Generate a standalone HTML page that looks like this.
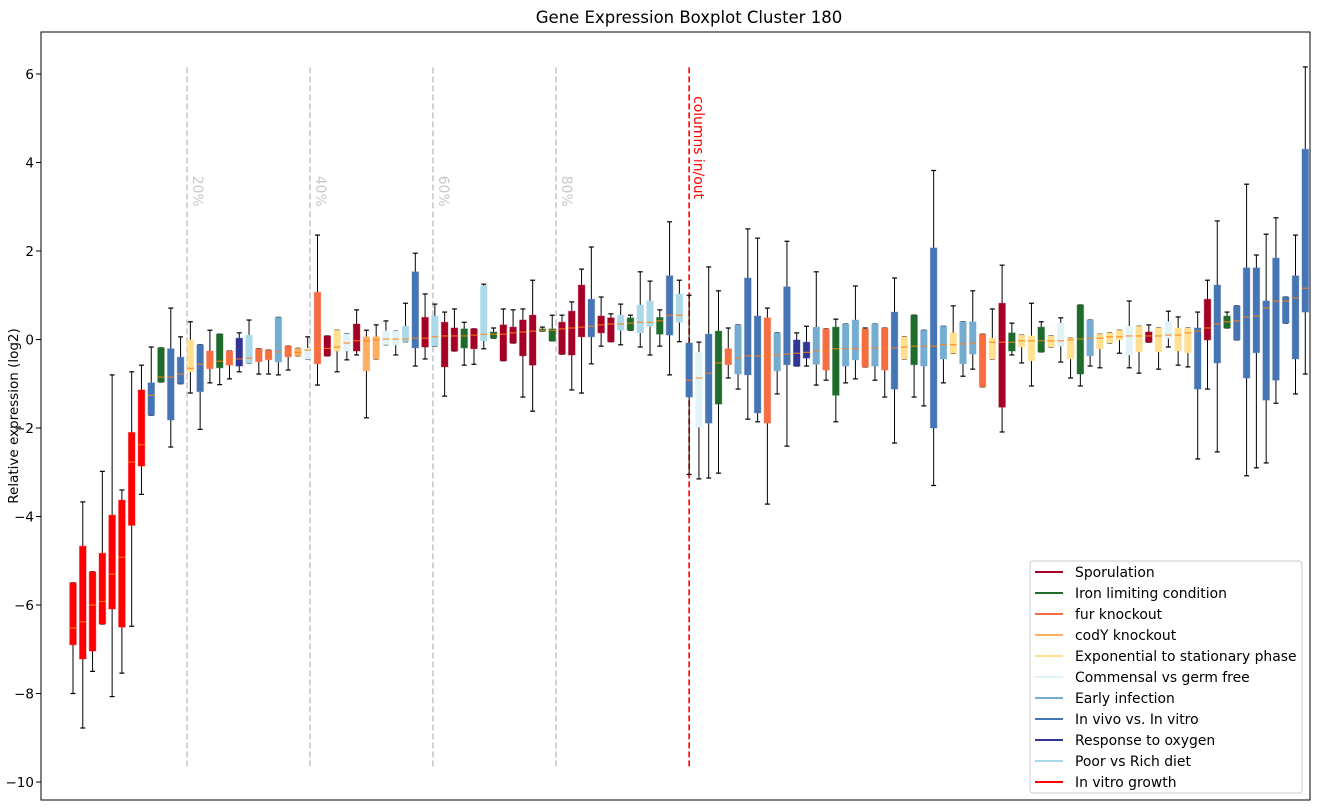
<!DOCTYPE html>
<html><head><meta charset="utf-8">
<style>
html,body{margin:0;padding:0;background:#fff;}
svg{display:block;font-family:"DejaVu Sans","Liberation Sans",sans-serif;}
</style></head>
<body>
<svg id="chart" width="1318" height="812" viewBox="0 0 1318 812"></svg>
<script>
// ---- data (log2 relative expression), one entry per box ----
const categories = ["R","R","R","R","R","R","R","R",
"V","G","V","V","E","V","F","G","F","O","P","F","F","I",
"F","C","M","F","S","E","M","S","C","C","M","M","P","V","S","P","S","S","G","S","P",
"G","S","S","S","S","G","G","S","S","S","V","S","S","P","G","P","P","G","V","P","V",
"M","V","G","F","I","V","V","F","I","V","O","O","I","F","G","I","I","F","I","F","V","E",
"G","I","V","I","E","I","I","F","E","S","G","E","E","G","E","M","E","G","I","E","E","E",
"M","E","S","E","M","E","E","V","S","V","G","V","V","V","V","V","V","V","V"];
const medians = [-6.52,-6.38,-6.0,-5.92,-5.3,-4.92,-2.77,-2.38,
-1.26,-0.85,-0.85,-0.78,-0.65,-0.56,-0.56,-0.49,-0.46,-0.44,-0.42,-0.35,-0.33,-0.28,
-0.29,-0.29,-0.24,-0.2,-0.2,-0.17,-0.08,-0.03,-0.03,-0.01,0.01,0.01,0.01,0.03,0.03,0.06,0.08,0.08,0.08,0.1,0.12,
0.12,0.12,0.15,0.17,0.19,0.21,0.21,0.24,0.26,0.28,0.3,0.33,0.35,0.35,0.37,0.39,0.39,0.42,0.55,0.55,-0.92,
-0.87,-0.76,-0.53,-0.44,-0.42,-0.37,-0.37,-0.35,-0.35,-0.33,-0.31,-0.29,-0.26,-0.26,-0.21,-0.21,-0.21,-0.19,-0.19,-0.19,-0.19,-0.17,
-0.15,-0.15,-0.15,-0.12,-0.12,-0.1,-0.08,-0.08,-0.06,-0.06,-0.06,-0.03,-0.03,-0.03,-0.03,-0.03,-0.01,0.01,0.03,0.03,0.06,0.06,
0.08,0.08,0.08,0.08,0.1,0.1,0.15,0.19,0.26,0.35,0.4,0.42,0.51,0.53,0.71,0.87,0.87,0.94,1.16];
const q1 = [-6.9,-7.22,-7.04,-6.43,-6.09,-6.5,-4.2,-2.86,
-1.71,-0.96,-1.82,-1.0,-0.73,-1.18,-0.66,-0.64,-0.58,-0.6,-0.53,-0.5,-0.46,-0.51,
-0.39,-0.37,-0.44,-0.55,-0.37,-0.26,-0.26,-0.26,-0.71,-0.44,-0.12,-0.12,-0.05,-0.19,-0.17,-0.15,-0.62,-0.26,-0.19,-0.21,-0.03,
0.03,-0.48,-0.08,-0.37,-0.58,0.19,-0.03,-0.33,-0.35,0.06,0.06,0.15,-0.05,0.21,0.21,0.15,0.3,0.12,0.1,0.39,-1.3,
-1.98,-1.89,-1.46,-0.57,-0.78,-0.8,-1.66,-1.89,-0.71,-0.57,-0.6,-0.42,-0.56,-0.69,-1.26,-0.6,-0.46,-0.62,-0.6,-0.69,-1.12,-0.44,
-0.57,-0.6,-2.0,-0.44,-0.31,-0.55,-0.33,-1.07,-0.44,-1.53,-0.26,-0.17,-0.48,-0.28,-0.17,-0.15,-0.44,-0.78,-0.37,-0.21,-0.08,-0.01,
-0.35,-0.28,-0.06,-0.28,0.03,-0.26,-0.3,-1.12,-0.01,-0.53,0.26,-0.01,-0.87,-0.3,-1.37,-0.92,0.37,-0.44,0.62];
const q3 = [-5.5,-4.67,-5.25,-4.83,-3.97,-3.63,-2.1,-1.14,
-0.98,-0.19,-0.21,-0.4,-0.01,-0.12,-0.26,0.12,-0.26,0.03,0.1,-0.21,-0.24,0.5,
-0.15,-0.2,-0.2,1.07,0.08,0.21,0.13,0.35,0.06,0.06,0.19,0.19,0.3,1.53,0.5,0.53,0.39,0.26,0.24,0.24,1.21,
0.17,0.33,0.28,0.44,0.55,0.24,0.24,0.39,0.64,1.23,0.91,0.53,0.49,0.55,0.49,0.78,0.87,0.5,1.44,1.03,-0.08,
-0.29,0.12,0.19,-0.21,0.33,1.39,0.53,0.49,0.15,1.19,-0.01,-0.06,0.28,0.24,0.28,0.35,0.44,0.24,0.35,0.26,0.62,0.06,
0.55,0.21,2.07,0.3,0.15,0.4,0.4,0.12,0.03,0.82,0.15,0.1,0.08,0.28,0.08,0.37,0.03,0.78,0.44,0.12,0.15,0.21,
0.3,0.3,0.17,0.26,0.4,0.26,0.26,0.26,0.91,1.23,0.53,0.76,1.62,1.62,0.87,1.84,0.96,1.44,4.3];
const whiskerHigh = [-5.5,-3.67,-5.25,-2.98,-0.8,-3.4,-0.73,-0.58,
-0.17,-0.19,0.71,0.06,0.4,-0.12,0.21,0.12,-0.26,0.15,0.44,-0.21,-0.24,0.5,
-0.15,-0.2,0.06,2.36,0.08,0.21,0.13,0.67,0.21,0.33,0.42,0.19,0.82,1.95,1.03,0.8,0.62,0.69,0.39,0.24,1.25,
0.26,0.69,0.67,0.69,1.34,0.28,0.55,0.55,0.85,1.59,2.09,0.96,0.58,0.8,0.55,1.53,1.32,0.67,2.66,1.34,1.0,
-0.06,1.64,1.1,0.26,0.33,2.5,2.29,0.71,0.15,2.22,0.15,0.3,1.53,0.24,0.46,0.35,1.21,0.26,0.35,0.26,1.39,0.06,
0.55,0.21,3.82,0.3,0.76,0.4,1.1,0.12,0.69,1.68,0.37,0.1,0.82,0.4,0.08,0.49,0.03,0.78,0.44,0.12,0.15,0.21,
0.87,0.3,0.33,0.26,0.64,0.51,0.26,0.62,1.34,2.68,0.62,0.76,3.51,1.91,2.38,2.75,0.96,2.36,6.16];
const whiskerLow = [-8.0,-8.78,-7.5,-6.43,-8.07,-7.54,-6.48,-3.5,
-1.71,-0.96,-2.43,-1.0,-1.21,-2.03,-0.98,-1.02,-0.89,-0.73,-0.53,-0.78,-0.78,-0.8,
-0.69,-0.37,-0.44,-1.03,-0.37,-0.73,-0.46,-0.35,-1.77,-0.44,-0.12,-0.35,-0.05,-0.6,-0.44,-0.15,-1.28,-0.26,-0.58,-0.56,-0.21,
0.03,-0.48,-0.08,-1.3,-1.62,0.19,-0.03,-0.33,-1.14,-1.21,-0.55,-0.15,-0.05,-0.12,0.21,-0.17,-0.35,-0.15,-0.8,-0.05,-3.05,
-3.15,-3.13,-3.02,-0.87,-1.12,-1.8,-1.86,-3.72,-1.23,-2.41,-0.6,-0.6,-1.03,-0.92,-1.86,-0.98,-0.89,-0.62,-0.92,-1.3,-2.34,-0.44,
-1.3,-1.5,-3.3,-0.98,-0.31,-0.83,-0.67,-1.07,-0.44,-2.09,-0.35,-0.53,-1.05,-0.28,-0.17,-0.51,-0.87,-1.05,-0.6,-0.64,-0.08,-0.31,
-0.64,-0.76,-0.06,-0.67,-0.17,-0.58,-0.62,-2.7,-1.12,-2.54,0.26,-0.01,-3.08,-2.9,-2.79,-1.44,0.37,-1.23,-0.78];
const yTicks = [-10,-8,-6,-4,-2,0,2,4,6];
const percentLines = [11.66,24.23,36.8,49.39];
const percentLabels = ["20%","40%","60%","80%"];
const splitIndex = 63;
const legendKeys = ["S","G","F","C","E","M","I","V","O","P","R"];
const legendLabels = ["Sporulation","Iron limiting condition","fur knockout","codY knockout","Exponential to stationary phase","Commensal vs germ free","Early infection","In vivo vs. In vitro","Response to oxygen","Poor vs Rich diet","In vitro growth"];

const colors = {S:"#a50026",G:"#1e6b2c",F:"#f46d43",C:"#fdae61",E:"#fee090",M:"#e0f3f8",I:"#74add1",V:"#4575b4",O:"#313695",P:"#abd9e9",R:"#ff0000"};

const NS = "http://www.w3.org/2000/svg";
const svg = document.getElementById("chart");
const L=41,T=32,R=1310,B=800;
function yPix(v){ return 339.5 - v*44.25; }
function xPix(i){ return 73 + i*9.78; }
function mk(tag, attrs, parent){
  const e=document.createElementNS(NS,tag);
  for(const k in attrs) e.setAttribute(k,attrs[k]);
  (parent||svg).appendChild(e); return e;
}

const title = mk("text",{x:689,y:23,"text-anchor":"middle","font-size":"16.5"});


title.textContent="Gene Expression Boxplot Cluster 180";

const yl = mk("text",{x:0,y:0,"text-anchor":"middle","font-size":"13.5",transform:"translate(18,416) rotate(-90)"});


yl.textContent="Relative expression (log2)";

const tg = mk("g",{});


yTicks.forEach(v=>{
  const y=yPix(v);
  mk("line",{x1:L-5,x2:L,y1:y,y2:y,stroke:"#000","stroke-width":1},tg);
  const t=mk("text",{x:L-7,y:y+5,"text-anchor":"end","font-size":"13.5"},tg);
  
  
  t.textContent = v<0 ? "\u2212"+Math.abs(v) : String(v);
});

percentLines.forEach((p,k)=>{
  const x=xPix(p);
  const ln=mk("line",{x1:x,x2:x,y1:yPix(6.15),y2:yPix(-9.65),stroke:"#c8c8c8","stroke-width":1.6,"stroke-dasharray":"6,3"});
  
  
  const t=mk("text",{x:0,y:0,"font-size":"13.9",fill:"#c8c8c8",transform:`translate(${x+6},${yPix(3.7)}) rotate(90)`});
  
  
  t.textContent=percentLabels[k];
});
{
  const x=xPix(splitIndex);
  const ln=mk("line",{x1:x,x2:x,y1:yPix(6.15),y2:yPix(-9.65),stroke:"#ff0000","stroke-width":1.6,"stroke-dasharray":"6,3"});
  
  
  const t=mk("text",{x:0,y:0,"font-size":"13.9",fill:"#ff0000",transform:`translate(${x+5},${yPix(5.5)}) rotate(90)`});
  
  
  t.textContent="columns in/out";
}

const bw=6.6;
categories.forEach((c,i)=>{
  const g=mk("g",{});
  
  
  const x=xPix(i);
  mk("line",{x1:x,x2:x,y1:yPix(whiskerHigh[i]),y2:yPix(q3[i]),stroke:"#000","stroke-width":1},g);
  mk("line",{x1:x,x2:x,y1:yPix(q1[i]),y2:yPix(whiskerLow[i]),stroke:"#000","stroke-width":1},g);
  mk("line",{x1:x-2.5,x2:x+2.5,y1:yPix(whiskerHigh[i]),y2:yPix(whiskerHigh[i]),stroke:"#000","stroke-width":1.2},g);
  mk("line",{x1:x-2.5,x2:x+2.5,y1:yPix(whiskerLow[i]),y2:yPix(whiskerLow[i]),stroke:"#000","stroke-width":1.2},g);
  const yt=yPix(q3[i]), yb=yPix(q1[i]);
  mk("rect",{x:x-bw/2,y:yt,width:bw,height:Math.max(1,yb-yt),fill:colors[c],stroke:colors[c],"stroke-opacity":0.4,"stroke-width":1},g);
  mk("line",{x1:x-bw/2,x2:x+bw/2,y1:yPix(medians[i]),y2:yPix(medians[i]),stroke:"#ff7f0e","stroke-width":1},g);
});

const fr=mk("rect",{x:L,y:T,width:R-L,height:B-T,fill:"none",stroke:"#000","stroke-width":1});



const lg=mk("g",{});


mk("rect",{x:1030,y:561,width:272,height:232,rx:3,fill:"#fff","fill-opacity":0.85,stroke:"#cccccc","stroke-width":1},lg);
legendKeys.forEach((k,j)=>{
  const y=572+j*21;
  const e=mk("g",{},lg);
  
  
  mk("line",{x1:1035,x2:1063,y1:y,y2:y,stroke:colors[k],"stroke-width":2},e);
  const t=mk("text",{x:1075,y:y+5,"font-size":"13.9"},e);
  t.textContent=legendLabels[j];
});
</script>
</body></html>
